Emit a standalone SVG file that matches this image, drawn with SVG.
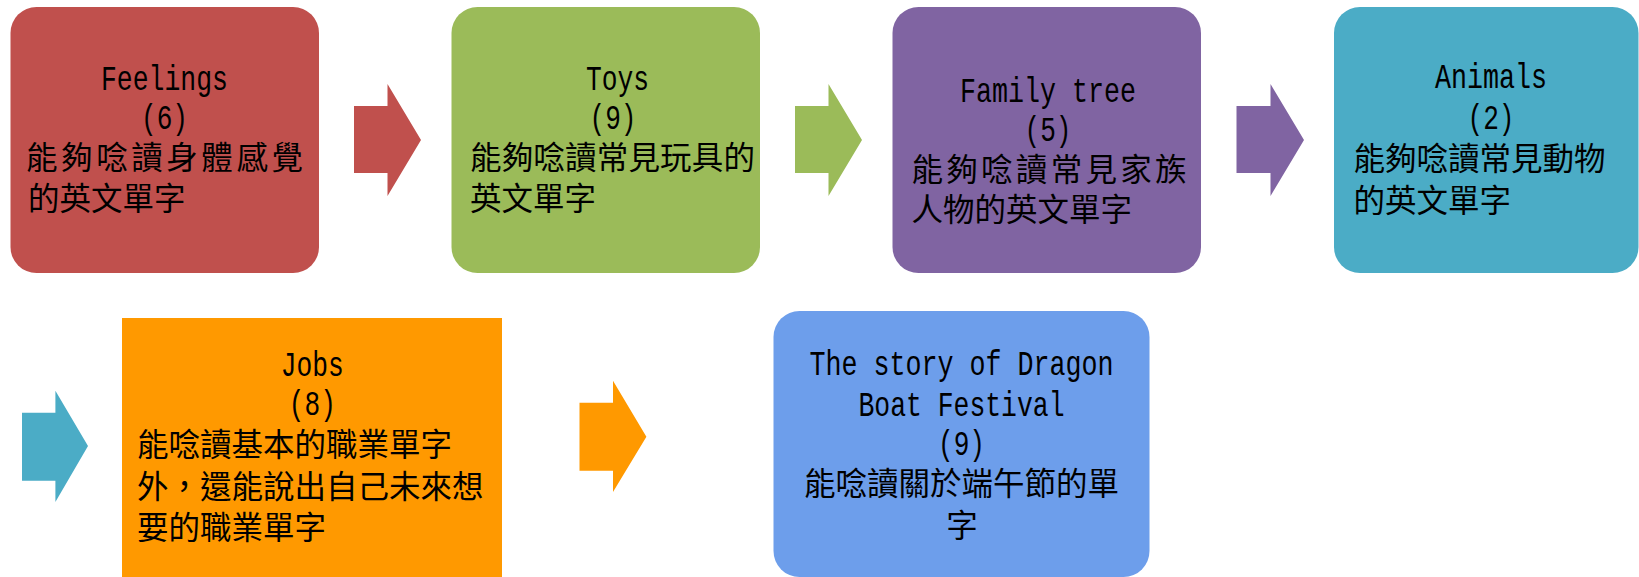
<svg xmlns="http://www.w3.org/2000/svg" width="1639" height="577" viewBox="0 0 1639 577">
<style>
.lat{font-family:"Liberation Mono",monospace;font-size:35px;fill:#000}
.cjk{font-family:"Noto Sans CJK TC","Noto Sans CJK SC",sans-serif;font-size:31.5px;fill:#000}
.c{text-anchor:middle}
</style>
<rect width="1639" height="577" fill="#fff"/>
<g id="connectors">
<polygon points="354,106 387.5,106 387.5,84 421,140 387.5,196 387.5,173 354,173" fill="#C0504D"/>
<polygon points="795,106 828.5,106 828.5,84 862,140 828.5,196 828.5,173 795,173" fill="#9BBB59"/>
<polygon points="1236.5,106 1270.5,106 1270.5,84 1304,140 1270.5,196 1270.5,173 1236.5,173" fill="#8064A2"/>
<polygon points="22,412.7 55.4,412.7 55.4,390.7 88,446 55.4,502 55.4,480.7 22,480.7" fill="#4BACC6"/>
<polygon points="579.5,402.7 613,402.7 613,380.7 646.4,436.7 613,492 613,470.7 579.5,470.7" fill="#FF9900"/>
</g>
<g id="feelings">
<rect x="10.5" y="7" width="308.5" height="266" rx="26" fill="#C0504D"/>
<text class="lat c" x="164.5" y="90" textLength="127" lengthAdjust="spacingAndGlyphs">Feelings</text>
<text class="lat c" x="164.5" y="128.5" textLength="47" lengthAdjust="spacingAndGlyphs">(6)</text>
<text class="cjk" x="26" y="168.5" textLength="277">能夠唸讀身體感覺</text>
<text class="cjk" x="28" y="209.5">的英文單字</text>
</g>
<g id="toys">
<rect x="451.5" y="7" width="308.5" height="266" rx="26" fill="#9BBB59"/>
<text class="lat" x="586" y="90" textLength="63" lengthAdjust="spacingAndGlyphs">Toys</text>
<text class="lat" x="589.5" y="128.5" textLength="47" lengthAdjust="spacingAndGlyphs">(9)</text>
<text class="cjk" x="470" y="168.5" textLength="285">能夠唸讀常見玩具的</text>
<text class="cjk" x="470" y="209.5">英文單字</text>
</g>
<g id="family-tree">
<rect x="892.5" y="7" width="308.5" height="266" rx="26" fill="#8064A2"/>
<text class="lat c" x="1048" y="101.5" textLength="176" lengthAdjust="spacingAndGlyphs">Family tree</text>
<text class="lat c" x="1048" y="141" textLength="47" lengthAdjust="spacingAndGlyphs">(5)</text>
<text class="cjk" x="911.5" y="180.5" textLength="275">能夠唸讀常見家族</text>
<text class="cjk" x="911.5" y="221">人物的英文單字</text>
</g>
<g id="animals">
<rect x="1334" y="7" width="304.5" height="266" rx="26" fill="#4BACC6"/>
<text class="lat c" x="1491" y="88" textLength="112" lengthAdjust="spacingAndGlyphs">Animals</text>
<text class="lat c" x="1491" y="129" textLength="47" lengthAdjust="spacingAndGlyphs">(2)</text>
<text class="cjk" x="1353.5" y="170">能夠唸讀常見動物</text>
<text class="cjk" x="1353.5" y="211.5">的英文單字</text>
</g>
<g id="jobs">
<rect x="122" y="318" width="380" height="259" fill="#FF9900"/>
<text class="lat c" x="312.3" y="376" textLength="63" lengthAdjust="spacingAndGlyphs">Jobs</text>
<text class="lat c" x="312.3" y="414.5" textLength="47" lengthAdjust="spacingAndGlyphs">(8)</text>
<text class="cjk" x="137" y="456">能唸讀基本的職業單字</text>
<text class="cjk" x="137" y="497.5">外，還能說出自己未來想</text>
<text class="cjk" x="137" y="539">要的職業單字</text>
</g>
<g id="dragon-boat">
<rect x="773.5" y="311" width="376" height="266" rx="26" fill="#6D9EEB"/>
<text class="lat c" x="961.5" y="375" textLength="304" lengthAdjust="spacingAndGlyphs">The story of Dragon</text>
<text class="lat c" x="961.5" y="416" textLength="206" lengthAdjust="spacingAndGlyphs">Boat Festival</text>
<text class="lat c" x="961.5" y="455" textLength="47" lengthAdjust="spacingAndGlyphs">(9)</text>
<text class="cjk c" x="961.5" y="495">能唸讀關於端午節的單</text>
<text class="cjk c" x="962" y="537">字</text>
</g>
</svg>
